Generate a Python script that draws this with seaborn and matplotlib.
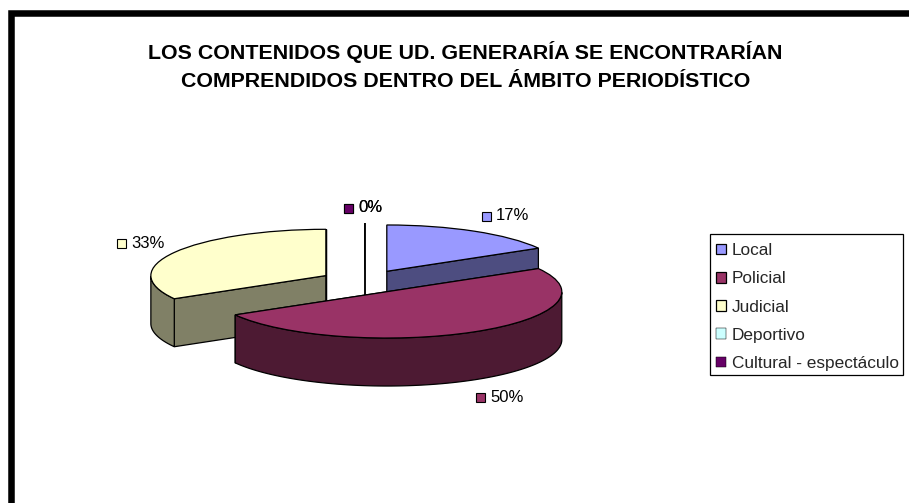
import numpy as np
import matplotlib
matplotlib.use("Agg")
import matplotlib.pyplot as plt
from matplotlib.patches import Rectangle
from matplotlib.transforms import Affine2D
import seaborn as sns

# values
categories = ["Local", "Policial", "Judicial", "Deportivo", "Cultural - espectáculo"]
shares = [16.67, 50.0, 33.33, 0.0, 0.0]
colors = ["#9999FF", "#993366", "#FFFFCC", "#CCFFFF", "#660066"]
title_lines = ["LOS CONTENIDOS QUE UD. GENERARÍA SE ENCONTRARÍAN",
               "COMPRENDIDOS DENTRO DEL ÁMBITO PERIODÍSTICO"]
point_labels = ["17%", "50%", "33%", "0%", "0%"]

W, H = 909, 503
CX, CY = 364.5, 281.5    # pie centre in pixels
RX, RY = 175.0, 46.3     # pixels per data unit, this is what tilts the pie
DEPTH = 48 / RY
EXPLODE = 0.255

sns.set_theme(style="white")
plt.rcParams['font.family'] = ['Liberation Sans', 'DejaVu Sans']

fig = plt.figure(figsize=(W / 100, H / 100), dpi=100)
ax = fig.add_axes([0, 0, 1, 1])
palette = sns.color_palette(colors)

wedges, _ = ax.pie(shares, colors=palette, explode=[EXPLODE] * 5, startangle=90,
                   counterclock=False, radius=1,
                   wedgeprops=dict(edgecolor="black", linewidth=0.9))
ax.set_aspect("auto")
ax.set_xlim(-CX / RX, (W - CX) / RX)
ax.set_ylim(-(H - CY) / RY, CY / RY)
ax.axis("off")


def draw_side(wedge, color, z, lw=0.9):
    # extrude one pie slice downwards: radial faces first, then the front of the rim
    dark = tuple(c * 0.5 for c in color)
    cx, cy = wedge.center
    for t in (wedge.theta2, wedge.theta1):
        a = np.radians(t)
        xs = [cx, cx + np.cos(a), cx + np.cos(a), cx]
        ys = [cy, cy + np.sin(a), cy + np.sin(a) - DEPTH, cy - DEPTH]
        ax.fill(xs, ys, facecolor=dark, edgecolor="black", linewidth=lw, zorder=z)
    t = np.linspace(wedge.theta1, wedge.theta2, 200)
    t = t[np.sin(np.radians(t)) <= 0]
    if len(t) > 1:
        a = np.radians(t)
        xs = np.r_[cx + np.cos(a), (cx + np.cos(a))[::-1]]
        ys = np.r_[cy + np.sin(a), (cy + np.sin(a))[::-1] - DEPTH]
        ax.fill(xs, ys, facecolor=dark, edgecolor="black", linewidth=lw, zorder=z + 0.1)
    wedge.set_zorder(z + 0.2)
    wedge.set_linewidth(lw)


# back slices first, the big front slice goes last
for z, i in enumerate([0, 2, 3, 4, 1]):
    draw_side(wedges[i], palette[i], z + 1, lw=0.9 if shares[i] > 0 else 0.35)

fig.text(465.5 / W, 1 - 59 / H, title_lines[0], ha="center", va="baseline",
         fontsize=15.4, fontweight="bold", color="black")
fig.text(465.5 / W, 1 - 86.7 / H, title_lines[1], ha="center", va="baseline",
         fontsize=15.4, fontweight="bold", color="black")

# data labels with their little colour keys, placed in pixels
px = Affine2D().scale(1, -1).translate(0, H)
label_pos = [(486, 216), (480, 397), (121, 243), (348, 208), (348, 208)]
for pos, text, col in zip(label_pos, point_labels, palette):
    ax.add_patch(Rectangle((pos[0] - 4.5, pos[1] - 4.5), 9, 9, transform=px, facecolor=col,
                           edgecolor="black", linewidth=0.8, zorder=20))
    ax.text(pos[0] + 10, pos[1], text, transform=px, va="center", ha="left",
            fontsize=12, color="black", zorder=20)

# legend box is drawn on its own, the pads in the original are not even
ax.add_patch(Rectangle((710, 234), 193, 141, transform=px, facecolor="white",
                       edgecolor="black", linewidth=0.9, zorder=25))
leg = ax.legend(wedges, categories, loc="upper left",
                bbox_to_anchor=(716 / W, 1 - 243 / H), bbox_transform=fig.transFigure,
                fontsize=12.4, frameon=False, borderaxespad=0, borderpad=0,
                handlelength=0.58, handleheight=0.58, handletextpad=0.35, labelspacing=0.77)
leg.set_zorder(30)

# thick border of the pasted chart, it runs off the right and bottom of the image
fig.add_artist(Rectangle((11.4, -10), W + 20, H - 12.7 + 10, transform=Affine2D(), fill=False,
                         edgecolor="black", linewidth=4.7))

fig.savefig("out.png", dpi=100, facecolor="white")
